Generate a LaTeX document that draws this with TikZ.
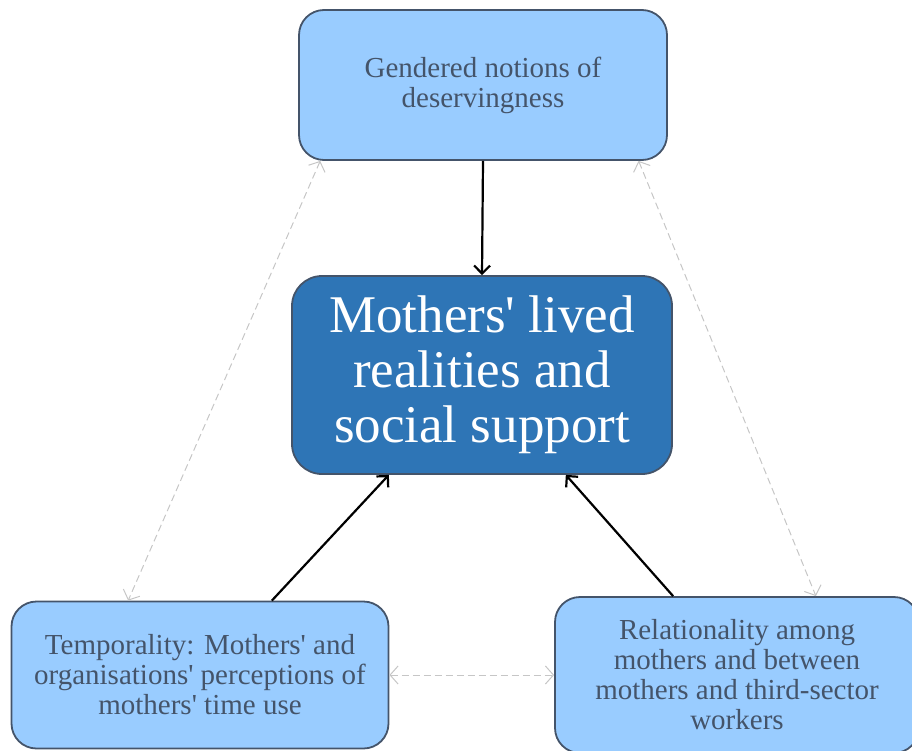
\documentclass[tikz,border=0pt]{standalone}
\usepackage{fontspec}
\setmainfont{Liberation Serif}
\usetikzlibrary{arrows.meta}
\definecolor{boxblue}{HTML}{99CCFF}
\definecolor{coreblue}{HTML}{2E75B6}
\definecolor{edgegray}{HTML}{44546A}
\newcommand{\ap}{\textquotesingle}
\begin{document}
\begin{tikzpicture}[x=1pt, y=-1pt,
    theme/.style={draw=edgegray, line width=1.8pt, fill=boxblue, rounded corners=25pt,
      align=center, text=edgegray, font=\fontsize{29}{30}\selectfont, inner sep=0pt},
    core/.style={theme, fill=coreblue, text=white, rounded corners=30pt,
      font=\fontsize{53}{55}\selectfont},
    feeds/.style={line width=2.2pt, -{Straight Barb[length=8pt, width=16pt, line width=2.2pt]}},
    links/.style={gray!45, line width=1pt, dashed, dash pattern=on 7pt off 4pt,
      {Straight Barb[length=8pt, width=18pt]}-{Straight Barb[length=8pt, width=18pt]}}]
  \useasboundingbox (0,0) rectangle (912,751);
  % themes round the core
  \node[theme, minimum width=368pt, minimum height=150pt] (gender) at (483,85)
    {Gendered notions of\\deservingness};
  \node[core, minimum width=380pt, minimum height=198pt] (lived) at (482,375)
    {Mothers\ap{} lived\\realities and\\social support};
  \node[theme, minimum width=377pt, minimum height=147pt] (time) at (200,675)
    {Temporality: Mothers\ap{} and\\organisations\ap{} perceptions of\\mothers\ap{} time use};
  \node[theme, minimum width=364pt, minimum height=156pt] (relat) at (737,675)
    {Relationality among\\mothers and between\\mothers and third-sector\\workers};
  % influences
  \draw[feeds] (gender.south) -- (lived.north);
  \draw[feeds] (time.46) -- (lived.227);
  \draw[feeds] (relat.129) -- (lived.310);
  % links between themes
  \draw[links] (gender.205) -- (time.134);
  \draw[links] (gender.334) -- (relat.45);
  \draw[links] (time.east) -- (relat.west);
\end{tikzpicture}
\end{document}
